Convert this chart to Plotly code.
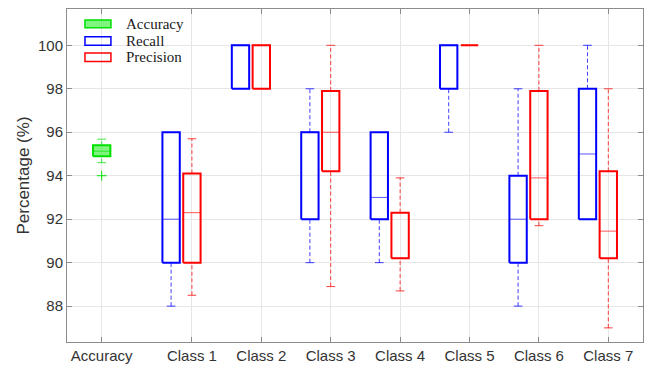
import plotly.graph_objects as go

# ---- data -------------------------------------------------------------
categories = ["Accuracy", "Class 1", "Class 2", "Class 3", "Class 4",
              "Class 5", "Class 6", "Class 7"]
class_pos = [1, 2, 3, 4, 5, 6, 7]
acc_pos = -0.3

# overall accuracy box statistics
acc_q1 = 94.9
acc_med = 95.13
acc_q3 = 95.4
acc_lo = 94.6
acc_hi = 95.68
acc_outliers = [94.0]

# per-class recall box statistics
recall_q1 = [90, 98, 92, 92, 98, 90, 92]
recall_med = [92, 100, 96, 93, 100, 92, 95]
recall_q3 = [96, 100, 96, 96, 100, 94, 98]
recall_lo = [88, 98, 90, 90, 96, 88, 92]
recall_hi = [96, 100, 98, 96, 100, 98, 100]

# per-class precision box statistics
precision_q1 = [90, 98, 94.2, 90.2, 100, 92, 90.2]
precision_med = [92.3, 100, 96, 90.2, 100, 93.9, 91.45]
precision_q3 = [94.1, 100, 97.9, 92.3, 100, 97.9, 94.2]
precision_lo = [88.5, 98, 88.9, 88.7, 100, 91.7, 87.0]
precision_hi = [95.7, 100, 100, 93.9, 100, 100, 98]

y_ticks = [88, 90, 92, 94, 96, 98, 100]

# ---- style ------------------------------------------------------------
BOX_W = 0.25
RECALL_SHIFT = -0.3
GREEN = "rgb(0,225,0)"
GREEN_FILL = "rgba(60,240,60,0.65)"
BLUE = "rgb(0,0,255)"
RED = "rgb(255,0,0)"
W, H = 651, 371
ML, MR, MT, MB = 67, 7, 9, 26


def box_traces(pos, q1, med, q3, lo, hi, color, fill=None, name=""):
    """Return scatter traces drawing MATLAB-style boxes (solid box, thin
    median, dashed whiskers, solid caps)."""
    bx, by, mx, my, wx, wy, cx, cy = [], [], [], [], [], [], [], []
    for p, a, m, b, l, h in zip(pos, q1, med, q3, lo, hi):
        x0, x1 = p - BOX_W / 2, p + BOX_W / 2
        bx += [x0, x1, x1, x0, x0, None]
        by += [a, a, b, b, a, None]
        mx += [x0, x1, None]
        my += [m, m, None]
        if h > b:
            wx += [p, p, None]
            wy += [b, h, None]
            cx += [p - BOX_W / 4, p + BOX_W / 4, None]
            cy += [h, h, None]
        if l < a:
            wx += [p, p, None]
            wy += [l, a, None]
            cx += [p - BOX_W / 4, p + BOX_W / 4, None]
            cy += [l, l, None]
    traces = [
        go.Scatter(x=wx, y=wy, mode="lines", name=name + " whisker",
                   line=dict(color=color, width=1, dash="4px,2.5px"),
                   opacity=0.75, hoverinfo="skip"),
        go.Scatter(x=cx, y=cy, mode="lines", name=name + " cap",
                   line=dict(color=color, width=1), opacity=0.75,
                   hoverinfo="skip"),
    ]
    if fill:
        traces.append(go.Scatter(x=bx, y=by, mode="lines", fill="toself",
                                 fillcolor=fill, name=name,
                                 line=dict(color=color, width=2)))
    else:
        traces.append(go.Scatter(x=bx, y=by, mode="lines", name=name,
                                 line=dict(color=color, width=2)))
    traces.append(go.Scatter(x=mx, y=my, mode="lines", name=name + " median",
                             line=dict(color=color, width=1), opacity=0.65,
                             hoverinfo="skip"))
    return traces


fig = go.Figure()

for t in box_traces([acc_pos], [acc_q1], [acc_med], [acc_q3], [acc_lo],
                    [acc_hi], GREEN, fill=GREEN_FILL, name="Accuracy"):
    fig.add_trace(t)
fig.add_trace(go.Scatter(x=[acc_pos] * len(acc_outliers), y=acc_outliers,
                         mode="markers", name="Accuracy outliers",
                         marker=dict(symbol="cross-thin", size=7,
                                     line=dict(color=GREEN, width=1))))

recall_pos = [p + RECALL_SHIFT for p in class_pos]
for t in box_traces(recall_pos, recall_q1, recall_med, recall_q3,
                    recall_lo, recall_hi, BLUE, name="Recall"):
    fig.add_trace(t)
for t in box_traces(class_pos, precision_q1, precision_med, precision_q3,
                    precision_lo, precision_hi, RED, name="Precision"):
    fig.add_trace(t)

# ---- legend (drawn in the upper-left corner of the axes) ---------------
pw, ph = W - ML - MR, H - MT - MB


def px_x(x):
    return (x - ML) / pw


def px_y(y):
    return 1 - (y - MT) / ph


legend_items = [("Accuracy", GREEN, GREEN_FILL, 20, 28),
                ("Recall", BLUE, "rgba(0,0,0,0)", 37, 45.5),
                ("Precision", RED, "rgba(0,0,0,0)", 53.5, 62)]
shapes = []
annotations = []
for label, col, fc, y_top, y_bot in legend_items:
    shapes.append(dict(type="rect", xref="paper", yref="paper",
                       x0=px_x(85), x1=px_x(111), y0=px_y(y_bot),
                       y1=px_y(y_top), line=dict(color=col, width=1.5),
                       fillcolor=fc))
    annotations.append(dict(xref="paper", yref="paper", x=px_x(124.5),
                            y=px_y((y_top + y_bot) / 2), xanchor="left",
                            yanchor="middle", showarrow=False, text=label,
                            font=dict(family="Liberation Serif", size=15,
                                      color="#1a1a1a")))

axis_common = dict(showline=True, linecolor="#8c8c8c", linewidth=1,
                   mirror="ticks", ticks="inside", ticklen=5,
                   tickcolor="#8c8c8c", showgrid=True, gridcolor="#e6e6e6",
                   gridwidth=1, zeroline=False,
                   tickfont=dict(family="Liberation Sans", size=15,
                                 color="#333333"))

fig.update_layout(
    width=W, height=H,
    margin=dict(l=ML, r=MR, t=MT, b=MB, pad=0),
    paper_bgcolor="white", plot_bgcolor="white",
    showlegend=False,
    shapes=shapes, annotations=annotations,
    xaxis=dict(range=[-0.8, 7.5], tickmode="array",
               tickvals=[acc_pos] + class_pos, ticktext=categories,
               **axis_common),
    yaxis=dict(range=[86.35, 101.67], tickmode="array", tickvals=y_ticks,
               ticktext=[str(v) for v in y_ticks],
               title=dict(text="Percentage (%)", standoff=4,
                          font=dict(family="Liberation Sans", size=17,
                                    color="#333333")),
               **axis_common),
)

fig.write_html("out.html")
